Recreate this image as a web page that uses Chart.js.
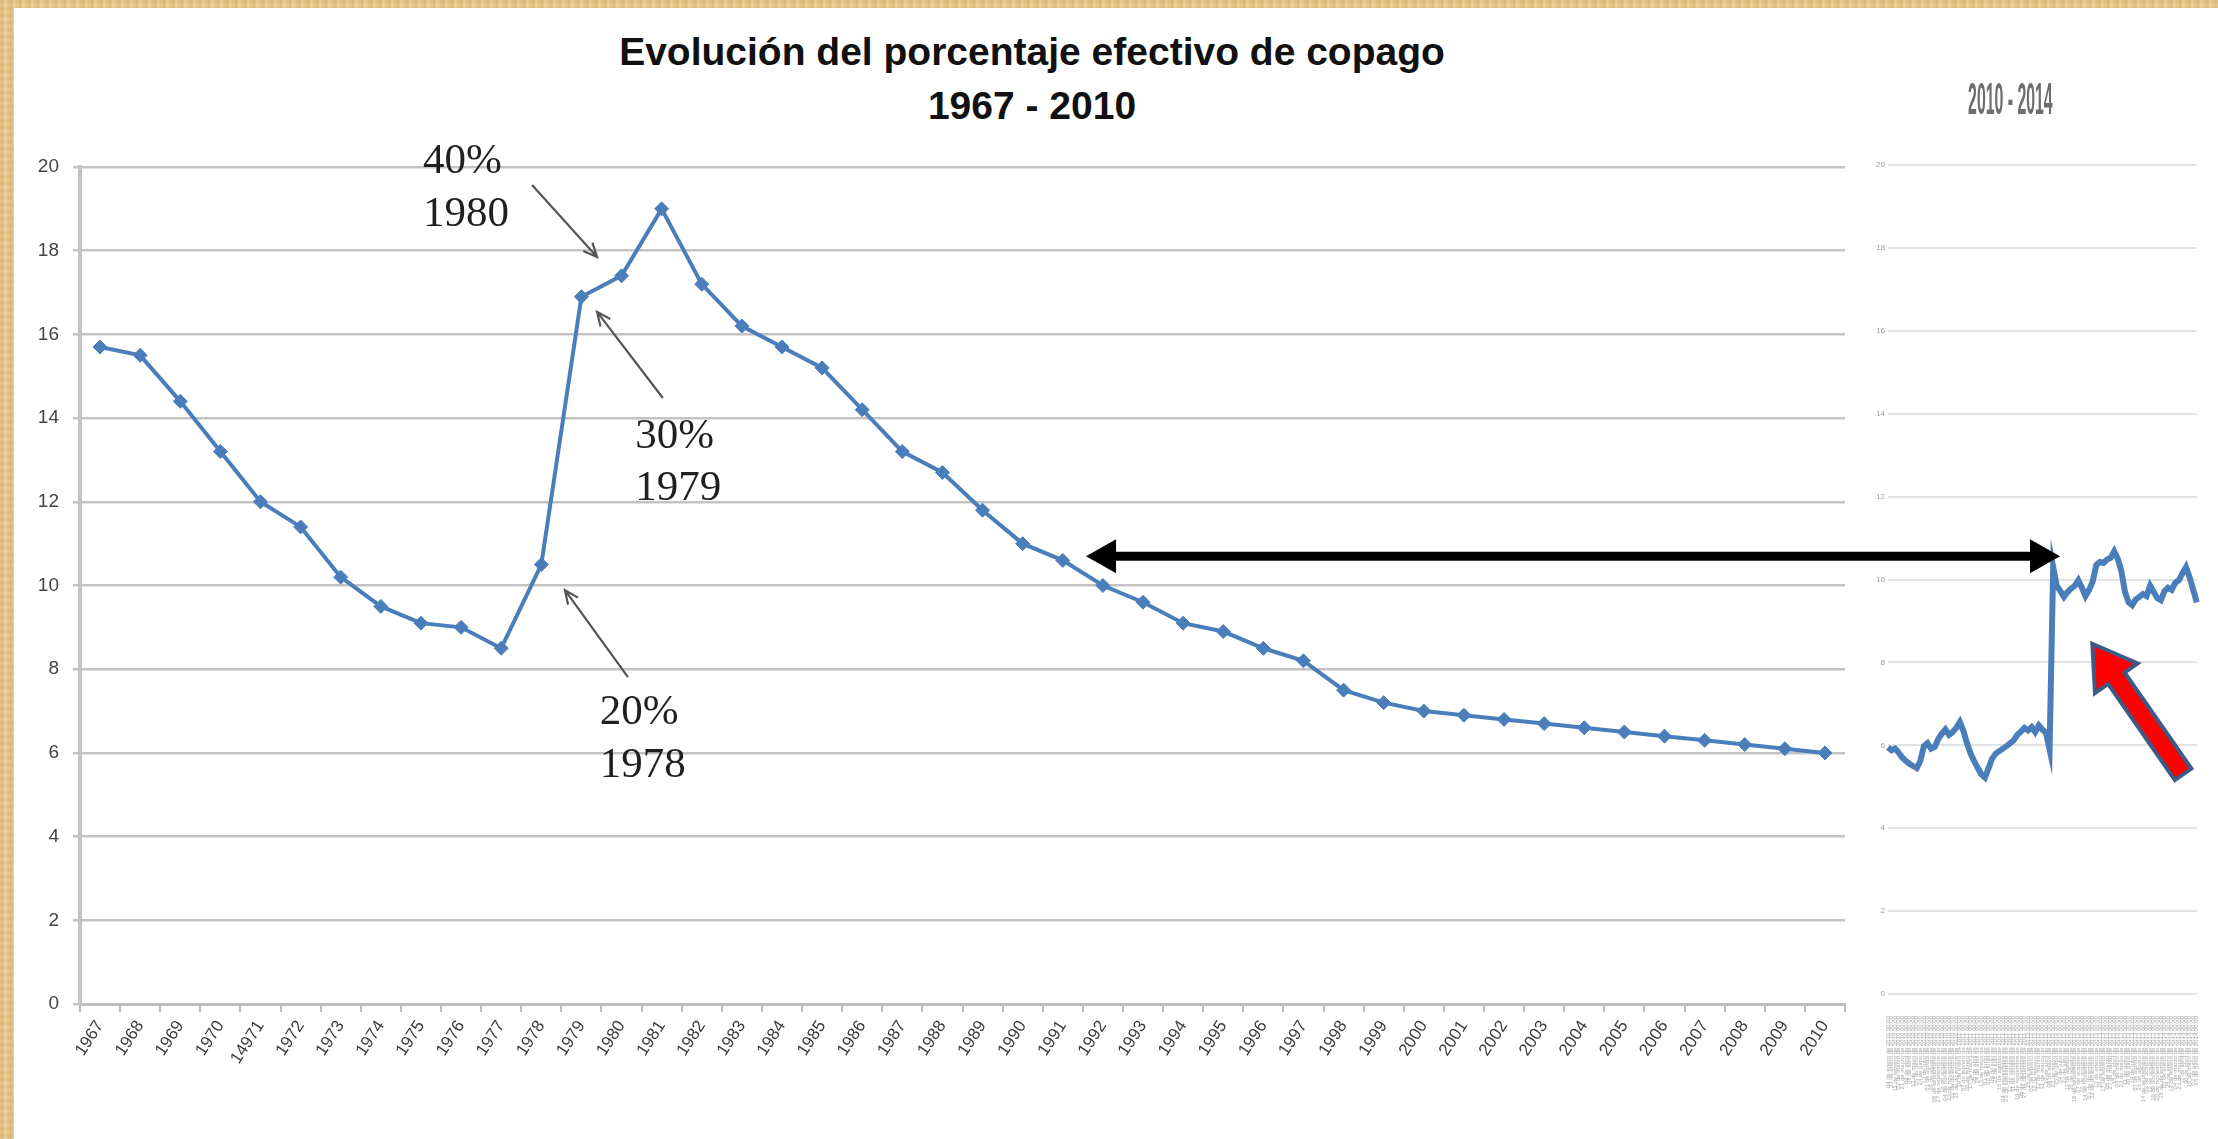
<!DOCTYPE html>
<html>
<head>
<meta charset="utf-8">
<title>Evolución del porcentaje efectivo de copago</title>
<script src="https://cdn.jsdelivr.net/npm/chart.js"></script>
<style>
  html, body { margin: 0; padding: 0; }
  body {
    width: 2218px; height: 1139px; overflow: hidden; position: relative;
    background:
      repeating-linear-gradient(0deg, rgba(255,255,255,0.10) 0px, rgba(120,80,20,0.06) 3px, rgba(255,255,255,0.08) 7px),
      repeating-linear-gradient(90deg, #e8c98a 0px, #d9b772 2px, #ecd29a 5px, #e1c07f 9px);
  }
  .panel { position: absolute; left: 14px; top: 8px; right: 0; bottom: 0; background: #fff; }
  .titulo {
    position: absolute; left: 532px; width: 1000px; top: 25px;
    text-align: center; color: #111;
    font: bold 39px 'Liberation Sans', Arial, sans-serif;
    line-height: 54px;
  }
  canvas { position: absolute; left: 0; top: 0; }
</style>
</head>
<body>
<div class="panel"></div>
<div class="titulo">Evolución del porcentaje efectivo de copago<br>1967 - 2010</div>
<canvas id="tramo" width="2218" height="1139"></canvas>
<canvas id="principal" width="2218" height="1139"></canvas>

<script>
// serie principal 1967-2010 (% efectivo de copago)
const anios = ['1967','1968','1969','1970','14971','1972','1973','1974','1975','1976','1977','1978',
               '1979','1980','1981','1982','1983','1984','1985','1986','1987','1988','1989','1990',
               '1991','1992','1993','1994','1995','1996','1997','1998','1999','2000','2001','2002',
               '2003','2004','2005','2006','2007','2008','2009','2010'];
const copago = [15.7, 15.5, 14.4, 13.2, 12.0, 11.4, 10.2, 9.5, 9.1, 9.0, 8.5, 10.5,
                16.9, 17.4, 19.0, 17.2, 16.2, 15.7, 15.2, 14.2, 13.2, 12.7, 11.8, 11.0,
                10.6, 10.0, 9.6, 9.1, 8.9, 8.5, 8.2, 7.5, 7.2, 7.0, 6.9, 6.8,
                6.7, 6.6, 6.5, 6.4, 6.3, 6.2, 6.1, 6.0];
const yTicks = [0, 2, 4, 6, 8, 10, 12, 14, 16, 18, 20];

// recuadro 2010 - 2014
const tituloTramo = '2010 - 2014';
const copago1014 = [5.95, 5.88, 5.92, 5.82, 5.70, 5.62, 5.55, 5.50, 5.45, 5.62,
                    5.98, 6.05, 5.92, 5.96, 6.15, 6.28, 6.38, 6.25, 6.32, 6.42,
                    6.56, 6.35, 6.05, 5.80, 5.62, 5.45, 5.30, 5.22, 5.45, 5.68,
                    5.80, 5.86, 5.92, 5.98, 6.05, 6.12, 6.25, 6.33, 6.42, 6.36,
                    6.44, 6.32, 6.48, 6.38, 6.30, 5.90, 10.30, 9.85, 9.72, 9.58,
                    9.70, 9.78, 9.85, 9.98, 9.80, 9.60, 9.75, 9.95, 10.35, 10.42,
                    10.40, 10.48, 10.52, 10.68, 10.50, 10.20, 9.70, 9.45, 9.38, 9.52,
                    9.58, 9.65, 9.60, 9.85, 9.70, 9.55, 9.50, 9.72, 9.80, 9.75,
                    9.92, 9.98, 10.15, 10.30, 10.05, 9.75, 9.45];
const meses = ['enero', 'febrero', 'marzo', 'abril', 'mayo', 'junio', 'julio',
               'agosto', 'septiembre', 'octubre', 'noviembre', 'diciembre'];

// etiquetas de fecha del recuadro (cada 19 dias desde el 4/1/2010)
const fechas = copago1014.map((v, i) => {
    const d = new Date(Date.UTC(2010, 0, 4 + i * 19));
    const dd = String(d.getUTCDate()).padStart(2, '0');
    return dd + ' de ' + meses[d.getUTCMonth()] + ' de ' + d.getUTCFullYear() + ' 00:00';
});

const azul = '#4a7ebb';

function flechaFina(ctx, x1, y1, x2, y2) {
    const a = Math.atan2(y2 - y1, x2 - x1);
    ctx.beginPath();
    ctx.moveTo(x1, y1);
    ctx.lineTo(x2, y2);
    ctx.moveTo(x2 - 15 * Math.cos(a - 0.42), y2 - 15 * Math.sin(a - 0.42));
    ctx.lineTo(x2, y2);
    ctx.lineTo(x2 - 15 * Math.cos(a + 0.42), y2 - 15 * Math.sin(a + 0.42));
    ctx.stroke();
}

// textos y flechas sobre el grafico principal (en coordenadas de datos)
const notasPlugin = {
    id: 'notas',
    afterDraw(chart) {
        const {ctx, scales: {x, y}} = chart;
        const notas = [
            {txt: ['40%', '1980'], i: 8.05, v: [19.86, 18.59]},
            {txt: ['30%', '1979'], i: 13.34, v: [13.29, 12.04]},
            {txt: ['20%', '1978'], i: 12.46, v: [6.69, 5.42]}
        ];
        const flechas = [
            [10.77, 19.57, 12.39, 17.85],
            [14.03, 14.48, 12.39, 16.54],
            [13.16, 7.81, 11.59, 9.89]
        ];
        ctx.save();
        ctx.font = '43px "Liberation Serif", "Times New Roman", serif';
        ctx.fillStyle = '#1f1f1f';
        ctx.textAlign = 'left';
        ctx.textBaseline = 'alphabetic';
        notas.forEach(n => {
            n.txt.forEach((t, k) => ctx.fillText(t, x.getPixelForValue(n.i), y.getPixelForValue(n.v[k])));
        });
        ctx.strokeStyle = '#555';
        ctx.lineWidth = 2.2;
        flechas.forEach(f => flechaFina(ctx, x.getPixelForValue(f[0]), y.getPixelForValue(f[1]),
                                             x.getPixelForValue(f[2]), y.getPixelForValue(f[3])));

        // flecha doble negra hasta el recuadro 2010-2014
        const xa = x.getPixelForValue(24.58), xb = x.getPixelForValue(48.86), yy = y.getPixelForValue(10.7);
        const lh = 30, hw = 17;
        ctx.fillStyle = '#000';
        ctx.strokeStyle = '#000';
        ctx.lineWidth = 9;
        ctx.beginPath();
        ctx.moveTo(xa + lh - 2, yy);
        ctx.lineTo(xb - lh + 2, yy);
        ctx.stroke();
        ctx.beginPath();
        ctx.moveTo(xa, yy); ctx.lineTo(xa + lh, yy - hw); ctx.lineTo(xa + lh, yy + hw); ctx.closePath();
        ctx.moveTo(xb, yy); ctx.lineTo(xb - lh, yy - hw); ctx.lineTo(xb - lh, yy + hw); ctx.closePath();
        ctx.fill();
        ctx.restore();
    }
};

// titulo comprimido y flecha roja del recuadro
const tramoPlugin = {
    id: 'tramo',
    afterDraw(chart) {
        const {ctx, scales: {x, y}, chartArea} = chart;
        ctx.save();
        ctx.translate((chartArea.left + chartArea.right) / 2 - 32, 124);
        ctx.scale(0.36, 1);
        ctx.font = 'bold 44px "Liberation Sans", Arial, sans-serif';
        ctx.fillStyle = '#6e6e6e';
        ctx.textAlign = 'center';
        ctx.textBaseline = 'bottom';
        ctx.fillText(tituloTramo, 0, 0);
        ctx.restore();

        const tx = x.getPixelForValue(56.9), ty = y.getPixelForValue(8.45);
        const bx = x.getPixelForValue(82.2), by = y.getPixelForValue(5.3);
        const a = Math.atan2(ty - by, tx - bx);
        const len = Math.hypot(tx - bx, ty - by);
        const sw = 10, hw = 26, hl = 42;
        ctx.save();
        ctx.translate(bx, by);
        ctx.rotate(a);
        ctx.beginPath();
        ctx.moveTo(0, -sw);
        ctx.lineTo(len - hl, -sw);
        ctx.lineTo(len - hl, -hw);
        ctx.lineTo(len, 0);
        ctx.lineTo(len - hl, hw);
        ctx.lineTo(len - hl, sw);
        ctx.lineTo(0, sw);
        ctx.closePath();
        ctx.fillStyle = '#ff0000';
        ctx.fill();
        ctx.strokeStyle = '#3a5a87';
        ctx.lineWidth = 4;
        ctx.lineJoin = 'miter';
        ctx.stroke();
        ctx.restore();
    }
};

new Chart(document.getElementById('tramo'), {
    type: 'line',
    data: {
        labels: fechas,
        datasets: [{
            data: copago1014,
            borderColor: azul,
            borderWidth: 6,
            pointRadius: 0,
            tension: 0
        }]
    },
    options: {
        responsive: false,
        animation: false,
        layout: { padding: { left: 1856, top: 165, right: 15, bottom: 0 } },
        plugins: { legend: { display: false }, tooltip: { enabled: false } },
        scales: {
            x: {
                grid: { display: false },
                border: { display: false },
                ticks: {
                    autoSkip: false, minRotation: 90, maxRotation: 90, padding: 14,
                    color: '#a8a8a8', font: { size: 6, family: 'Liberation Sans' }
                },
                afterFit: s => { s.height = 145; }
            },
            y: {
                min: 0, max: 20,
                afterBuildTicks: s => { s.ticks = yTicks.map(v => ({value: v})); },
                ticks: { color: '#9a9a9a', font: { size: 8, family: 'Liberation Sans' }, padding: 3 },
                grid: { color: '#e2e2e2', lineWidth: 2, tickLength: 0 },
                border: { display: false },
                afterFit: s => { s.width = 32; }
            }
        }
    },
    plugins: [tramoPlugin]
});

new Chart(document.getElementById('principal'), {
    type: 'line',
    data: {
        labels: anios,
        datasets: [{
            data: copago,
            borderColor: azul,
            backgroundColor: azul,
            borderWidth: 4,
            pointStyle: 'rectRot',
            pointRadius: 7,
            pointBorderWidth: 1,
            tension: 0
        }]
    },
    options: {
        responsive: false,
        animation: false,
        layout: { padding: { left: 0, top: 167, right: 373, bottom: 0 } },
        plugins: { legend: { display: false }, tooltip: { enabled: false } },
        scales: {
            x: {
                offset: true,
                grid: { offset: true, drawOnChartArea: false, tickLength: 8, color: '#bdbdbd', lineWidth: 2 },
                border: { color: '#bdbdbd', width: 3 },
                ticks: {
                    autoSkip: false, minRotation: 57, maxRotation: 57, padding: 5,
                    color: '#3a3a3a', font: { size: 17, family: 'Liberation Sans' }
                },
                afterFit: s => { s.height = 135; }
            },
            y: {
                min: 0, max: 20,
                afterBuildTicks: s => { s.ticks = yTicks.map(v => ({value: v})); },
                ticks: { color: '#444', font: { size: 19, family: 'Liberation Sans' }, padding: 14 },
                grid: { color: '#c3c3c3', lineWidth: 2.5, tickLength: 7 },
                border: { color: '#c3c3c3', width: 4 },
                afterFit: s => { s.width = 80; }
            }
        }
    },
    plugins: [notasPlugin]
});
</script>
</body>
</html>
